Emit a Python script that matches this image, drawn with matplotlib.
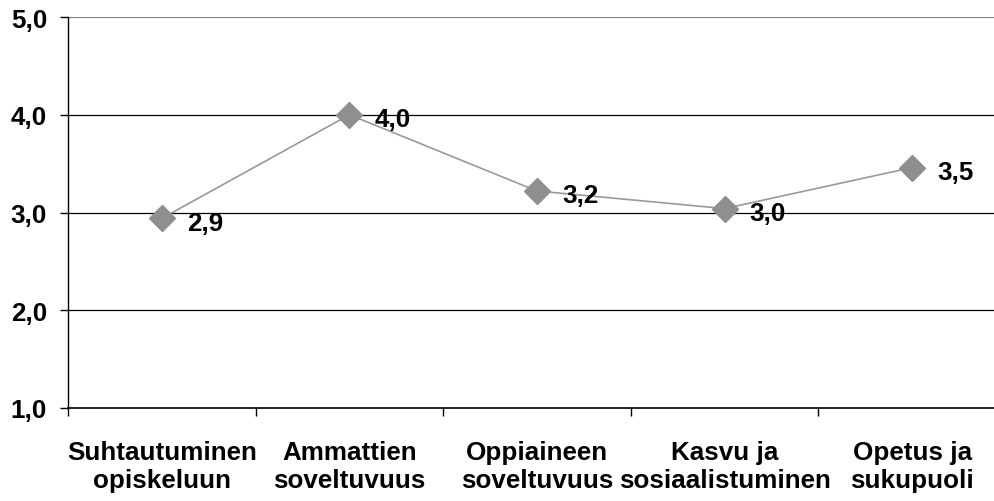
import matplotlib.pyplot as plt
import numpy as np

# %%
categories = ['Suhtautuminen\nopiskeluun', 'Ammattien\nsoveltuvuus', 'Oppiaineen\nsoveltuvuus',
              'Kasvu ja\nsosiaalistuminen', 'Opetus ja\nsukupuoli']
values = [2.94, 4.0, 3.22, 3.04, 3.46]
yticks = [1.0, 2.0, 3.0, 4.0, 5.0]

plt.rcParams['font.family'] = ['Liberation Sans', 'DejaVu Sans']
plt.rcParams['font.weight'] = 'bold'

fig = plt.figure(figsize=(9.95, 5.02), dpi=100)
W, H = 995, 502
ax = fig.add_axes([68/W, 1 - 409/H, (1006 - 68)/W, (409 - 18)/H])

x = np.arange(len(categories))
ax.plot(x, values, color='#999999', lw=1.2, zorder=3)
ax.plot(x, values, 'D', ms=13.5, color='#8f8f8f', mec='#8f8f8f', zorder=4, clip_on=False)

for xi, v in zip(x, values):
    ax.annotate(f'{v:.1f}'.replace('.', ','), (xi, v), xytext=(18, -3), textcoords='offset points',
                ha='left', va='center', fontsize=18.7, fontweight='bold', zorder=5)

# grid lines
for yv in yticks[1:-1]:
    ax.axhline(yv, color='black', lw=0.9, zorder=1)
ax.axhline(yticks[-1], color='#808080', lw=1.6, zorder=1)

ax.set_xlim(-0.5, len(categories) - 0.5)
ax.set_ylim(1.0, 5.0)
ax.set_yticks(yticks)
ax.set_yticklabels([f'{t:.1f}'.replace('.', ',') for t in yticks], fontsize=18.7, fontweight='bold')
ax.tick_params(axis='y', direction='out', length=6, width=1, pad=9)

# labels at category centres, tick marks at the boundaries
ax.set_xticks(x)
ax.set_xticklabels(categories, fontsize=18.7, fontweight='bold', linespacing=1.22)
ax.tick_params(axis='x', which='major', length=0, pad=23)
ax.set_xticks(np.arange(len(categories) + 1) - 0.5, minor=True)
ax.tick_params(axis='x', which='minor', direction='out', length=6, width=1)

for s in ['top', 'right']:
    ax.spines[s].set_visible(False)
ax.spines['left'].set_linewidth(1)
ax.spines['bottom'].set_linewidth(1.2)

fig.savefig('out.png', dpi=100)
